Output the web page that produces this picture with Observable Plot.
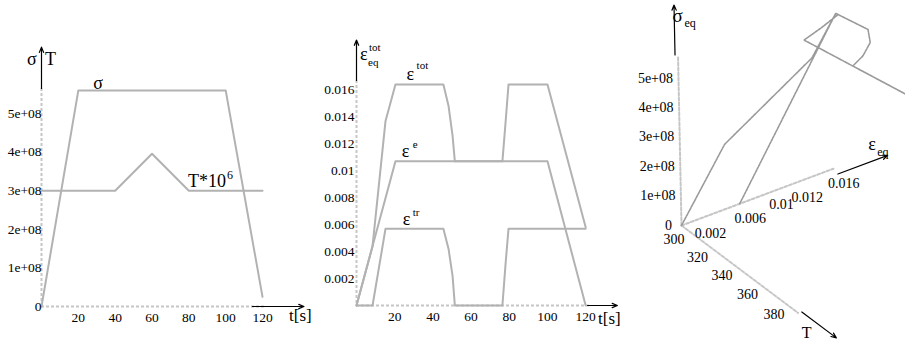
<!DOCTYPE html>
<html><head><meta charset="utf-8">
<script src="https://cdn.jsdelivr.net/npm/d3@7"></script>
<script src="https://cdn.jsdelivr.net/npm/@observablehq/plot@0.6"></script>
<style>
body{margin:0;background:#fff;}
#fig{position:relative;width:905px;height:344px;overflow:hidden;background:#fff;font-family:"Liberation Serif","Times New Roman",serif;}
#fig svg, #fig svg text{font-family:"Liberation Serif","Times New Roman",serif !important;}
</style></head><body><div id="fig"></div>
<script>
// ---------- Panel 1 data: sigma and T*10^6 vs time ----------
const sigmaTime  = [0, 20, 100, 120];
const sigmaValue = [0, 5.6e8, 5.6e8, 0.25e8];
const tempTime   = [0, 40, 60, 80, 120];
const tempValue  = [300, 300, 396, 300, 300];          // K (plotted as T*10^6)
const p1YTicks   = [0, 1e8, 2e8, 3e8, 4e8, 5e8];
const p1YLabels  = ["0", "1e+08", "2e+08", "3e+08", "4e+08", "5e+08"];
const timeTicks  = [20, 40, 60, 80, 100, 120];

// ---------- Panel 2 data: strains vs time ----------
const epsTotTime  = [0, 8.4, 15.2, 20.4, 45.5, 48.2, 50.3, 51.5, 76.4, 78, 79.6, 100, 120];
const epsTotValue = [0, 0.0044, 0.0137, 0.0164, 0.0164, 0.0148, 0.0126, 0.0107, 0.0107, 0.0135, 0.0164, 0.0164, 0.0058];
const epsElTime   = [0, 20.4, 100, 120];
const epsElValue  = [0, 0.0107, 0.0107, 0];
const epsTrTime   = [0, 8.4, 15.2, 45.5, 48.2, 50.3, 51.5, 76.4, 78, 79.6, 120];
const epsTrValue  = [0, 0, 0.0057, 0.0057, 0.0042, 0.0022, 0, 0, 0.003, 0.0057, 0.0057];
const p2YTicks    = [0.002, 0.004, 0.006, 0.008, 0.01, 0.012, 0.014, 0.016];
const p2YLabels   = ["0.002", "0.004", "0.006", "0.008", "0.01", "0.012", "0.014", "0.016"];

// ---------- Panel 3 data: path in (eps_eq, T, sigma_eq) ----------
const pathEps   = [0, 0.0044, 0.0137, 0.0164, 0.0164, 0.0148, 0.0126, 0.0107, 0.0107, 0.0107, 0.0135, 0.0164, 0.0164, 0.0164, 0.0058];
const pathTemp  = [300, 300, 300, 300, 326, 339, 349, 355, 396, 317, 310, 302, 300, 300, 300];
const pathSigma = [0, 2.24e8, 4.26e8, 5.6e8, 5.6e8, 5.6e8, 5.6e8, 5.6e8, 5.6e8, 5.6e8, 5.6e8, 5.6e8, 5.6e8, 5.6e8, 0];
const p3SigmaTicks  = [0, 1e8, 2e8, 3e8, 4e8, 5e8];
const p3SigmaLabels = ["0", "1e+08", "2e+08", "3e+08", "4e+08", "5e+08"];
const p3EpsTicks    = [0.002, 0.006, 0.01, 0.012, 0.016];
const p3EpsLabels   = ["0.002", "0.006", "0.01", "0.012", "0.016"];
const p3TempTicks   = [300, 320, 340, 360, 380];
const p3TempLabels  = ["300", "320", "340", "360", "380"];

// ---------- styling ----------
const serif = '"Liberation Serif", "Times New Roman", serif';
const lineGray = "#b2b2b2";
const axisGray = "#c6c6c6";
const fig = document.getElementById("fig");

function place(el, left) {
  el.style.position = "absolute";
  el.style.left = left + "px";
  el.style.top = "0px";
  fig.appendChild(el);
}
function addText(svg, x, y, str, size, anchor) {
  d3.select(svg).append("text")
    .attr("x", x).attr("y", y)
    .attr("text-anchor", anchor || "start")
    .attr("font-family", serif).attr("font-size", size)
    .attr("fill", "#000").text(str);
}
const zip = (xs, ys) => xs.map((x, i) => ({x, y: ys[i]}));
const arrowStyle = {stroke: "#000", strokeWidth: 1.2, headLength: 7, headAngle: 45};

// ================= Panel 1 =================
const p1 = Plot.plot({
  width: 320, height: 344,
  marginLeft: 41, marginRight: 54.3, marginTop: 88, marginBottom: 38,
  x: {domain: [0, 122]},
  y: {domain: [0, 5.65e8]},
  style: {fontFamily: serif, fontSize: "13.5px", overflow: "visible", background: "transparent"},
  marks: [
    Plot.ruleY([0], {stroke: axisGray, strokeWidth: 2, strokeDasharray: "3,2"}),
    Plot.ruleX([0], {stroke: axisGray, strokeWidth: 2, strokeDasharray: "3,2"}),
    Plot.line(zip(tempTime, tempValue.map(v => v * 1e6)), {x: "x", y: "y", stroke: lineGray, strokeWidth: 2}),
    Plot.line(zip(sigmaTime, sigmaValue), {x: "x", y: "y", stroke: lineGray, strokeWidth: 2}),
    Plot.axisY(p1YTicks, {tickSize: 0, tickPadding: 0, tickFormat: d => p1YLabels[p1YTicks.indexOf(d)]}),
    Plot.axisX(timeTicks, {tickSize: 0, tickPadding: 6}),
    Plot.arrow([{x1: 0, y1: 5.65e8, x2: 0, y2: 6.72e8}], {x1: "x1", y1: "y1", x2: "x2", y2: "y2", ...arrowStyle}),
    Plot.arrow([{x1: 114.5, y1: 0, x2: 142.5, y2: 0}], {x1: "x1", y1: "y1", x2: "x2", y2: "y2", ...arrowStyle})
  ]
});
{
  const sx = p1.scale("x").apply, sy = p1.scale("y").apply;
  addText(p1, sx(0) - 14, 65, "σ", 18);
  addText(p1, sx(0) + 4, 65, "T", 18);
  addText(p1, sx(31), sy(5.6e8) - 1, "σ", 18, "middle");
  addText(p1, sx(79.8), sy(300e6) - 3.5, "T*10", 18);
  addText(p1, sx(79.8) + 39, sy(300e6) - 11, "6", 12);
  addText(p1, 289, 321, "t[s]", 17);
}
place(p1, 0);

// ================= Panel 2 =================
const p2 = Plot.plot({
  width: 310, height: 344,
  marginLeft: 56, marginRight: 21, marginTop: 80, marginBottom: 39,
  x: {domain: [0, 122]},
  y: {domain: [0, 0.0167]},
  style: {fontFamily: serif, fontSize: "13.5px", overflow: "visible", background: "transparent"},
  marks: [
    Plot.ruleY([0], {stroke: axisGray, strokeWidth: 2, strokeDasharray: "3,2"}),
    Plot.ruleX([0], {stroke: axisGray, strokeWidth: 2, strokeDasharray: "3,2"}),
    Plot.line(zip(epsElTime, epsElValue), {x: "x", y: "y", stroke: lineGray, strokeWidth: 2}),
    Plot.line(zip(epsTrTime, epsTrValue), {x: "x", y: "y", stroke: lineGray, strokeWidth: 2}),
    Plot.line(zip(epsTotTime, epsTotValue), {x: "x", y: "y", stroke: lineGray, strokeWidth: 2}),
    Plot.axisY(p2YTicks, {tickSize: 0, tickPadding: 2, tickFormat: d => p2YLabels[p2YTicks.indexOf(d)]}),
    Plot.axisX(timeTicks, {tickSize: 0, tickPadding: 6}),
    Plot.arrow([{x1: 0, y1: 0.0167, x2: 0, y2: 0.0197}], {x1: "x1", y1: "y1", x2: "x2", y2: "y2", ...arrowStyle}),
    Plot.arrow([{x1: 121, y1: 0, x2: 136.6, y2: 0}], {x1: "x1", y1: "y1", x2: "x2", y2: "y2", ...arrowStyle})
  ]
});
{
  const sx = p2.scale("x").apply, sy = p2.scale("y").apply;
  addText(p2, sx(0) + 4, 60, "ε", 18);
  addText(p2, sx(0) + 13, 51, "tot", 11);
  addText(p2, sx(0) + 12, 66, "eq", 11);
  addText(p2, sx(26.5), sy(0.0164) - 4, "ε", 18);
  addText(p2, sx(26.5) + 10, sy(0.0164) - 15, "tot", 11);
  addText(p2, sx(24), sy(0.0107) - 4, "ε", 18);
  addText(p2, sx(24) + 11, sy(0.0107) - 13, "e", 11);
  addText(p2, sx(24.5), sy(0.0057) - 3, "ε", 18);
  addText(p2, sx(24.5) + 10, sy(0.0057) - 12, "tr", 11);
  addText(p2, 298, 324, "t[s]", 17);
}
place(p2, 300);

// ================= Panel 3 (3-D view) =================
const view = {ox: 81, oy: 225, e: [10.3, -3.85], t: [1.15, 0.8625], s: [-0.6, -29.4], a: 0.0045, b: -0.001, c: 0};
function project(eps, T, sig) {
  const u = eps * 1000, v = T - 300, w = sig / 1e8;
  const d = 1 + view.a * u + view.b * v + view.c * w;
  return {
    x: view.ox + (u * view.e[0] + v * view.t[0] + w * view.s[0]) / d,
    y: view.oy + (u * view.e[1] + v * view.t[1] + w * view.s[1]) / d
  };
}
const curve3 = pathEps.map((e, i) => project(e, pathTemp[i], pathSigma[i]));
const axSigma = [project(0, 300, 0), project(0, 300, 5.74e8)];
const axEps   = [project(0, 300, 0), project(0.0158, 300, 0)];
const axTemp  = [project(0, 300, 0), project(0, 392, 0)];
const axisDash = {x: "x", y: "y", stroke: axisGray, strokeWidth: 2, strokeDasharray: "3,2"};
const arrows3 = [
  {from: project(0, 300, 5.8e8), to: project(0, 300, 7.5e8), dx: -3, dy: 0},
  {from: project(0.0163, 300, 0), to: project(0.022, 300, 0), dx: 0, dy: 7},
  {from: project(0, 394, 0), to: project(0, 418, 0), dx: 1, dy: -3}
];
const p3 = Plot.plot({
  width: 305, height: 344,
  margin: 0,
  x: {type: "identity", axis: null},
  y: {type: "identity", axis: null},
  style: {fontFamily: serif, fontSize: "14px", overflow: "visible", background: "transparent"},
  marks: [
    Plot.line(axSigma, axisDash),
    Plot.line(axEps, axisDash),
    Plot.line(axTemp, axisDash),
    Plot.line(curve3, {x: "x", y: "y", stroke: "#9a9a9a", strokeWidth: 1.6, strokeDasharray: "2.5,1"}),
    ...arrows3.map(a => Plot.arrow([a], {x1: d => d.from.x, y1: d => d.from.y, x2: d => d.to.x, y2: d => d.to.y, dx: a.dx, dy: a.dy, ...arrowStyle}))
  ]
});
{
  p3SigmaTicks.forEach((s, i) => {
    const p = project(0, 300, s);
    addText(p3, p.x - (i === 0 ? 9 : 5), p.y + 4.5, p3SigmaLabels[i], 14, "end");
  });
  p3EpsTicks.forEach((e, i) => {
    const p = project(e, 300, 0);
    const nudge = p3EpsLabels[i] === "0.01" ? -7 : 0;
    addText(p3, p.x + 9 + nudge, p.y + 20.5, p3EpsLabels[i], 14, "middle");
  });
  p3TempTicks.forEach((T, i) => {
    const p = project(0, T, 0);
    addText(p3, p.x - 7, p.y + 19, p3TempLabels[i], 14, "middle");
  });
  const sTop = project(0, 300, 7.5e8);
  addText(p3, sTop.x - 4, 22, "σ", 19);
  addText(p3, sTop.x + 8, 27, "eq", 12);
  const eEnd = project(0.022, 300, 0);
  addText(p3, eEnd.x - 19, 150, "ε", 18);
  addText(p3, eEnd.x - 10, 156, "eq", 12);
  const tEnd = project(0, 418, 0);
  addText(p3, tEnd.x - 33, 338, "T", 16);
}
place(p3, 600);
</script></body></html>
